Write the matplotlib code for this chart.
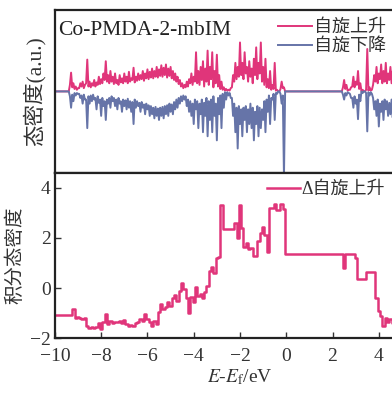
import numpy as np
import matplotlib
matplotlib.use("Agg")
from matplotlib import pyplot as plt

plt.rcParams['font.family'] = ['Liberation Serif', 'Noto Sans CJK SC']
plt.rcParams['mathtext.fontset'] = 'stix'
plt.rcParams['axes.unicode_minus'] = True

PINK = '#e0357a'
BLUE = '#6674a8'

# ---- top panel: spin-resolved DOS (a.u.) ----
# fine energy grid, 0.05 eV
energy_dos = np.round(np.arange(-10.0, 4.825, 0.05), 2)

# block 1, peaks every 0.1 eV from -9.4 to -0.1 and troughs halfway between
up_peak1 = [0.00, 0.23, 0.10, 0.06, 0.04, 0.10, 0.12, 0.08, 0.39, 0.12,
            0.10, 0.14, 0.11, 0.18, 0.15, 0.22, 0.37, 0.20, 0.25, 0.18,
            0.22, 0.14, 0.20, 0.16, 0.22, 0.18, 0.24, 0.16, 0.29, 0.18,
            0.22, 0.20, 0.25, 0.22, 0.27, 0.24, 0.28, 0.25, 0.30, 0.27,
            0.32, 0.29, 0.33, 0.28, 0.30, 0.25, 0.22, 0.18, 0.14, 0.10,
            0.08, 0.12, 0.15, 0.22, 0.18, 0.48, 0.25, 0.30, 0.37, 0.28,
            0.50, 0.30, 0.48, 0.25, 0.45, 0.20, 0.12, 0.05, 0.03, 0.02,
            0.04, 0.20, 0.35, 0.30, 0.60, 0.35, 0.48, 0.30, 0.37, 0.28,
            0.40, 0.54, 0.35, 0.60, 0.30, 0.40, 0.15, 0.25, 0.08, 0.35,
            0.02, 0.00, 0.12, 0.05]
up_trough1 = [0.08, 0.05, 0.03, 0.02, 0.04, 0.06, 0.04, 0.10, 0.06, 0.05,
              0.07, 0.06, 0.08, 0.09, 0.10, 0.14, 0.12, 0.10, 0.12, 0.09,
              0.10, 0.08, 0.11, 0.10, 0.12, 0.10, 0.12, 0.14, 0.11, 0.13,
              0.14, 0.15, 0.13, 0.16, 0.15, 0.17, 0.16, 0.18, 0.17, 0.19,
              0.18, 0.20, 0.17, 0.19, 0.16, 0.14, 0.12, 0.09, 0.06, 0.04,
              0.05, 0.06, 0.10, 0.08, 0.12, 0.10, 0.08, 0.14, 0.06, 0.12,
              0.08, 0.15, 0.05, 0.10, 0.06, 0.03, 0.02, 0.01, 0.01, 0.01,
              0.05, 0.12, 0.15, 0.18, 0.20, 0.15, 0.22, 0.12, 0.18, 0.10,
              0.20, 0.15, 0.22, 0.12, 0.08, 0.05, 0.04, 0.02, 0.03, 0.01,
              0.00, 0.03, 0.04]
down_peak1 = [0.00, -0.20, -0.12, -0.05, -0.03, -0.08, -0.15, -0.10, -0.45, -0.15,
              -0.12, -0.10, -0.22, -0.14, -0.30, -0.18, -0.35, -0.15, -0.20, -0.12,
              -0.18, -0.22, -0.15, -0.25, -0.18, -0.22, -0.20, -0.25, -0.40, -0.20,
              -0.18, -0.25, -0.20, -0.28, -0.22, -0.30, -0.28, -0.33, -0.30, -0.35,
              -0.30, -0.33, -0.28, -0.30, -0.25, -0.28, -0.22, -0.20, -0.15, -0.12,
              -0.10, -0.18, -0.25, -0.30, -0.40, -0.22, -0.45, -0.28, -0.50, -0.30,
              -0.55, -0.35, -0.50, -0.30, -0.60, -0.28, -0.45, -0.20, -0.10, -0.05,
              -0.08, -0.30, -0.50, -0.70, -0.40, -0.55, -0.35, -0.50, -0.40, -0.45,
              -0.60, -0.40, -0.55, -0.45, -0.35, -0.50, -0.25, -0.40, -0.10, -0.35,
              -0.03, 0.00, -0.15, -1.05]
down_trough1 = [-0.06, -0.04, -0.02, -0.02, -0.03, -0.05, -0.04, -0.10, -0.06, -0.05,
                -0.04, -0.08, -0.06, -0.10, -0.08, -0.12, -0.10, -0.08, -0.06, -0.08,
                -0.10, -0.08, -0.12, -0.10, -0.11, -0.09, -0.12, -0.13, -0.10, -0.12,
                -0.14, -0.13, -0.16, -0.15, -0.17, -0.18, -0.20, -0.19, -0.21, -0.20,
                -0.19, -0.18, -0.17, -0.15, -0.16, -0.13, -0.10, -0.08, -0.06, -0.05,
                -0.06, -0.10, -0.12, -0.15, -0.10, -0.12, -0.15, -0.10, -0.14, -0.08,
                -0.12, -0.10, -0.06, -0.15, -0.08, -0.05, -0.03, -0.01, -0.01, -0.02,
                -0.08, -0.15, -0.20, -0.18, -0.22, -0.20, -0.18, -0.22, -0.15, -0.20,
                -0.25, -0.18, -0.20, -0.22, -0.12, -0.10, -0.05, -0.08, -0.03, -0.02,
                0.00, -0.03, -0.05]

# block 2, peaks every 0.1 eV from 2.4 to 4.8
up_peak2 = [0.00, 0.14, 0.08, 0.02, 0.05, 0.18, 0.12, 0.25, 0.10, 0.02,
            0.00, 0.52, 0.05, 0.02, 0.20, 0.30, 0.22, 0.33, 0.25, 0.35,
            0.22, 0.30, 0.25, 0.28, 0.22]
up_trough2 = [0.05, 0.03, 0.01, 0.02, 0.06, 0.05, 0.08, 0.03, 0.00, 0.00,
              0.02, 0.01, 0.01, 0.08, 0.12, 0.10, 0.15, 0.10, 0.12, 0.10,
              0.14, 0.10, 0.12, 0.10]
down_peak2 = [0.00, -0.10, -0.05, -0.02, -0.08, -0.20, -0.15, -0.34, -0.12, -0.02,
              0.00, -0.49, -0.05, -0.03, -0.22, -0.30, -0.43, -0.25, -0.35, -0.22,
              -0.30, -0.28, -0.32, -0.25, -0.30]
down_trough2 = [-0.04, -0.02, -0.01, -0.03, -0.08, -0.06, -0.10, -0.04, 0.00, 0.00,
                -0.02, -0.01, -0.01, -0.08, -0.12, -0.10, -0.15, -0.12, -0.10, -0.12,
                -0.14, -0.10, -0.12, -0.10]

# ---- bottom panel: integrated DOS difference, 0.1 eV grid -10.0 .. 4.8 ----
energy_int = np.round(np.arange(-10.0, 4.85, 0.1), 1)
delta_int = ([-1.09] * 8 +
             [-0.85, -1.20, -1.15, -1.20, -1.22, -1.20, -1.50, -1.58, -1.55, -1.60,
              -1.55, -1.40, -1.62, -1.35, -1.05, -1.45, -1.30, -1.38, -1.35, -1.35,
              -1.30, -1.40, -1.28, -1.45, -1.50, -1.48, -1.52, -1.40, -1.35, -1.22,
              -1.30, -1.05, -1.25, -1.35, -1.50, -1.30, -1.42, -0.95, -0.62, -0.85,
              -0.75, -0.55, -0.70, -0.40, -0.28, -0.50, -0.10, 0.20, -0.05, -0.40,
              -1.00, -0.35, -0.55, 0.05, -0.30, -0.25, -0.40, -0.15, 0.10, 0.70,
              0.85, 0.60, 1.20, 1.25, 3.30, 2.36, 2.36, 2.36, 2.36, 2.36,
              2.60, 2.00, 3.30, 2.40, 1.65, 1.80, 1.55, 1.60, 1.30, 1.30,
              1.90, 2.20, 2.45, 2.10, 1.45, 3.20, 3.20, 3.35, 3.10, 3.10,
              3.35, 3.15] +
             [1.36] * 25 +
             [0.80, 1.36, 1.36, 1.36, 1.36, 1.20, 0.36, 0.36, 0.36, 0.36,
              0.64, 0.64, 0.64, 0.64, -0.40, -0.90, -1.10, -1.50, -1.20, -1.35,
              -1.25, -1.40, -1.30, -1.30])


def interleave(peaks, troughs):
    out = np.empty(len(peaks) + len(troughs))
    out[0::2] = peaks
    out[1::2] = troughs
    return out


def on_grid(start, *blocks):
    # put blocks on the 0.05 eV grid, zero elsewhere
    full = np.zeros(len(energy_dos))
    for e0, vals in zip(start, blocks):
        i = int(np.argmin(abs(energy_dos - e0)))
        full[i:i + len(vals)] = vals[:len(full) - i]
    return full


dos_up = on_grid((-9.4, 2.4), interleave(up_peak1, up_trough1),
                 interleave(up_peak2, up_trough2))
dos_down = on_grid((-9.4, 2.4), interleave(down_peak1, down_trough1),
                   interleave(down_peak2, down_trough2))

fig = plt.figure(figsize=(3.92, 3.94), dpi=100)
W = 16 * 23.14 / 392
ax1 = fig.add_axes([0.140, 0.561, W, 0.414])
ax2 = fig.add_axes([0.140, 0.142, W, 0.419])

ax1.plot(energy_dos, dos_up, color=PINK, lw=1.4, label='自旋上升')
ax1.plot(energy_dos, dos_down, color=BLUE, lw=1.4, label='自旋下降')
ax1.set_xlim(-10, 6)
ax1.set_ylim(-1, 1)
ax1.set_xticks([])
ax1.set_yticks([])
ax1.set_ylabel('态密度(a.u.)', fontsize=15.5, color='#333333', labelpad=7)
ax1.text(0.008, 0.93, 'Co-PMDA-2-mbIM', transform=ax1.transAxes,
         fontsize=15.5, va='top', ha='left', color='#222222')
fig.legend(*ax1.get_legend_handles_labels(), loc='upper left',
           bbox_to_anchor=(278 / 392, 1 - 19 / 394), frameon=False,
           fontsize=13, handlelength=1.9, handletextpad=0.08,
           labelspacing=0.12, borderpad=0, borderaxespad=0,
           labelcolor='#333333')

ax2.plot(energy_int, delta_int, color=PINK, lw=1.8, drawstyle='steps-mid',
         label='Δ自旋上升')
ax2.set_xlim(-10, 6)
ax2.set_ylim(-2, 4.6)
ax2.set_xticks(range(-10, 6, 2))
ax2.set_yticks([-2, 0, 2, 4])
ax2.tick_params(direction='in', length=4, width=1, labelsize=14,
                colors='#333333')
ax2.tick_params(axis='x', pad=7)
ax2.tick_params(axis='y', pad=3)
ax2.set_xlabel('$E$-$E_{\\mathrm{f}}$/eV', fontsize=14, color='#333333',
               labelpad=2)
ax2.set_ylabel('积分态密度', fontsize=14, color='#333333', labelpad=4)
fig.legend(*ax2.get_legend_handles_labels(), loc='upper left',
           bbox_to_anchor=(267 / 392, 1 - 181 / 394), frameon=False,
           fontsize=13, handlelength=1.8, handletextpad=0.08,
           borderpad=0, borderaxespad=0, labelcolor='#333333')

for ax in (ax1, ax2):
    for s in ax.spines.values():
        s.set_linewidth(1.6)
        s.set_color('#222222')

fig.savefig('out.png', dpi=100)
